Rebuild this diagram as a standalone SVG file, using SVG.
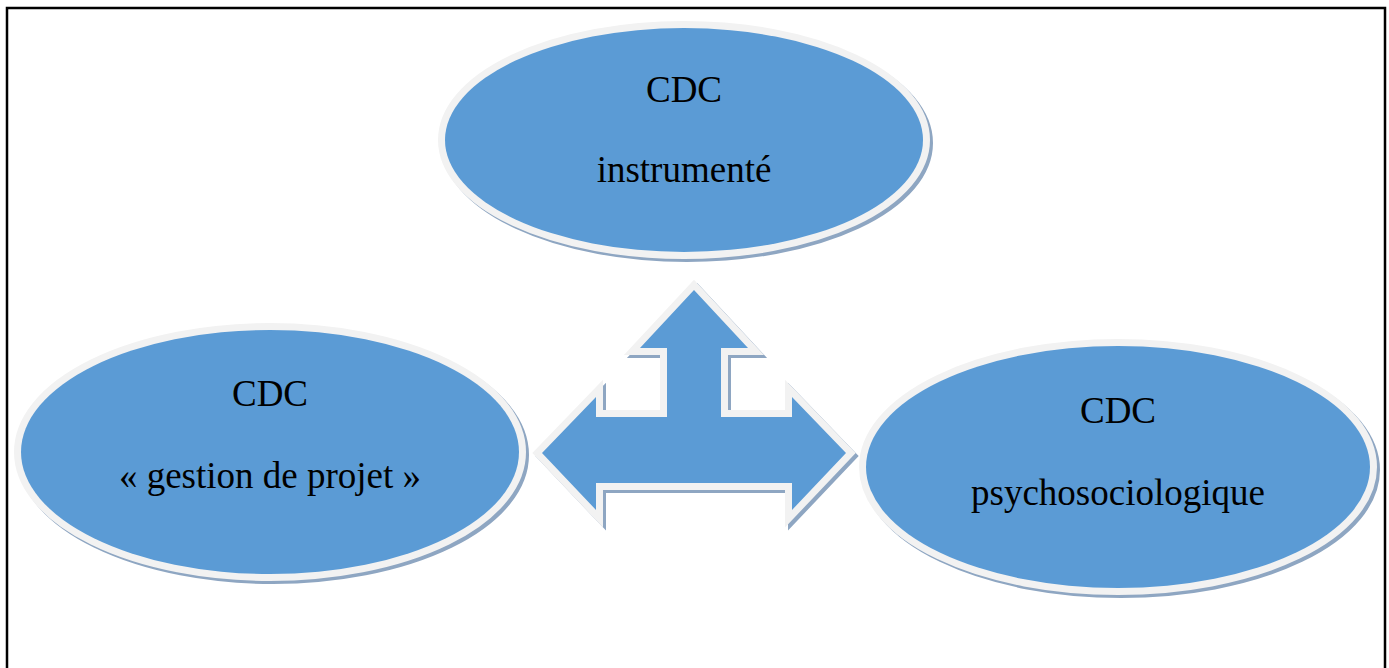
<svg xmlns="http://www.w3.org/2000/svg" width="1389" height="668" viewBox="0 0 1389 668">
<style>
.frame{fill:none;stroke:#000;stroke-width:2.5}
.shadow{fill:#8EA6C2;stroke:#8EA6C2;stroke-width:14;stroke-linejoin:miter}
.ring{fill:#F2F2F2;stroke:#F2F2F2;stroke-width:14;stroke-linejoin:miter}
.body{fill:#5B9BD5;stroke:none}
.lbl{font-family:"Liberation Serif","Times New Roman",serif;font-size:37px;fill:#000;text-anchor:middle}
</style>
<defs>
<polygon id="arrowShape" points="694,290 748,348 721,348 721,417 792,417 792,397 846,453 792,510 792,483 596,483 596,510 542,453 596,397 596,417 667,417 667,348 640,348"/>
</defs>
<rect class="frame" x="7" y="8" width="1378" height="700"/>
<g id="connectors">
<use href="#arrowShape" class="shadow" transform="translate(3,3)"/>
<use href="#arrowShape" class="ring"/>
<use href="#arrowShape" class="body"/>
</g>
<g id="node-instrumente">
<ellipse class="shadow" cx="687" cy="143" rx="239" ry="112"/>
<ellipse class="ring" cx="684" cy="140" rx="239" ry="112"/>
<ellipse class="body" cx="684" cy="140" rx="239" ry="112"/>
<text class="lbl" x="684" y="102">CDC</text>
<text class="lbl" x="684" y="182">instrumenté</text>
</g>
<g id="node-gestion">
<ellipse class="shadow" cx="273" cy="455" rx="249" ry="122"/>
<ellipse class="ring" cx="270" cy="452" rx="249" ry="122"/>
<ellipse class="body" cx="270" cy="452" rx="249" ry="122"/>
<text class="lbl" x="270" y="406">CDC</text>
<text class="lbl" x="270" y="488">« gestion de projet »</text>
</g>
<g id="node-psycho">
<ellipse class="shadow" cx="1121" cy="470" rx="252" ry="121"/>
<ellipse class="ring" cx="1118" cy="467" rx="252" ry="121"/>
<ellipse class="body" cx="1118" cy="467" rx="252" ry="121"/>
<text class="lbl" x="1118" y="423">CDC</text>
<text class="lbl" x="1118" y="505">psychosociologique</text>
</g>
</svg>
